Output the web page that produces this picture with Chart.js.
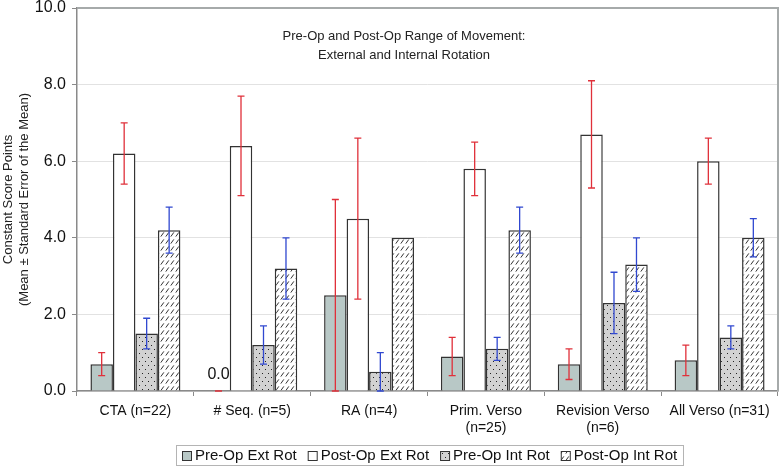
<!DOCTYPE html>
<html>
<head>
<meta charset="utf-8">
<script src="https://cdn.jsdelivr.net/npm/chart.js@4/dist/chart.umd.min.js"></script>
<style>
  html, body { margin: 0; padding: 0; background: #fff; }
  #wrap { width: 780px; height: 467px; position: relative; }
</style>
</head>
<body>
<div id="wrap"><canvas id="romChart"></canvas></div>
<script>
// --- Data ---
const categories = ['CTA (n=22)', '# Seq. (n=5)', 'RA (n=4)', ['Prim. Verso', '(n=25)'], ['Revision Verso', '(n=6)'], 'All Verso (n=31)'];
const seriesNames = ['Pre-Op Ext Rot', 'Post-Op Ext Rot', 'Pre-Op Int Rot', 'Post-Op Int Rot'];

const preExt = [0.7, 0.0, 2.5, 0.9, 0.7, 0.8];
const preExtErr = [0.3, 0.0, 2.5, 0.5, 0.4, 0.4];
const postExt = [6.2, 6.4, 4.5, 5.8, 6.7, 6.0];
const postExtErr = [0.8, 1.3, 2.1, 0.7, 1.4, 0.6];
const preInt = [1.5, 1.2, 0.5, 1.1, 2.3, 1.4];
const preIntErr = [0.4, 0.5, 0.5, 0.3, 0.8, 0.3];
const postInt = [4.2, 3.2, 4.0, 4.2, 3.3, 4.0];
const postIntErr = [0.6, 0.8, null, 0.6, 0.7, 0.5];

const yTicks = [0, 2, 4, 6, 8, 10];

// --- Helpers ---
const FONT = '"Liberation Sans", Arial, sans-serif';
const RED = '#e0303a';
const BLUE = '#3048d0';
const EDGE = '#333333';

const makePattern = (w, h, drawFn) => {
    const c = document.createElement('canvas');
    c.width = w;
    c.height = h;
    const g = c.getContext('2d');
    drawFn(g);
    return g.createPattern(c, 'repeat');
};

const dotPattern = makePattern(6, 8, g => {
    g.fillStyle = '#d2d2d2';
    g.fillRect(0, 0, 6, 8);
    g.fillStyle = '#222';
    g.fillRect(1, 1, 1, 1);
    g.fillRect(4, 5, 1, 1);
});

const hatchPattern = makePattern(5, 7, g => {
    g.fillStyle = '#ffffff';
    g.fillRect(0, 0, 5, 7);
    g.strokeStyle = '#333';
    g.lineWidth = 1;
    g.beginPath();
    g.moveTo(0.8, 5.6);
    g.lineTo(3.8, 1.4);
    g.stroke();
});

const fills = ['#b8c8c6', '#ffffff', dotPattern, hatchPattern];
const errs = [preExtErr, postExtErr, preIntErr, postIntErr];
const errColors = [RED, RED, BLUE, BLUE];

// --- Plugins ---
const frameAndExtras = {
    id: 'frameAndExtras',
    afterDatasetsDraw(chart) {
        const { ctx, chartArea, scales } = chart;
        const y = scales.y;

        // error bars
        chart.data.datasets.forEach((ds, di) => {
            const meta = chart.getDatasetMeta(di);
            meta.data.forEach((bar, i) => {
                const e = errs[di][i];
                if (e === null || e === undefined) return;
                const v = ds.data[i];
                const yt = y.getPixelForValue(v + e);
                const yb = y.getPixelForValue(Math.max(0, v - e));
                ctx.save();
                ctx.strokeStyle = errColors[di];
                ctx.lineWidth = 1.3;
                ctx.beginPath();
                ctx.moveTo(bar.x, yt);
                ctx.lineTo(bar.x, yb);
                ctx.moveTo(bar.x - 3.5, yt);
                ctx.lineTo(bar.x + 3.5, yt);
                ctx.moveTo(bar.x - 3.5, yb);
                ctx.lineTo(bar.x + 3.5, yb);
                ctx.stroke();
                ctx.restore();
            });
        });

        // "0.0" label for the zero bar
        const meta0 = chart.getDatasetMeta(0);
        preExt.forEach((v, i) => {
            if (v !== 0) return;
            const bar = meta0.data[i];
            ctx.save();
            ctx.fillStyle = '#111';
            ctx.font = '16px ' + FONT;
            ctx.textAlign = 'center';
            ctx.textBaseline = 'middle';
            ctx.fillText('0.0', bar.x, y.getPixelForValue(0) - 16);
            ctx.restore();
        });

        // top / right frame
        ctx.save();
        ctx.strokeStyle = '#a6aaaa';
        ctx.lineWidth = 2;
        ctx.beginPath();
        ctx.moveTo(chartArea.left, chartArea.top);
        ctx.lineTo(chartArea.right, chartArea.top);
        ctx.lineTo(chartArea.right, chartArea.bottom);
        ctx.stroke();
        ctx.restore();

        // title inside plot
        ctx.save();
        ctx.fillStyle = '#222';
        ctx.font = '13px ' + FONT;
        ctx.textAlign = 'center';
        ctx.textBaseline = 'middle';
        ctx.fillText('Pre-Op and Post-Op Range of Movement:', 404, 36);
        ctx.fillText('External and Internal Rotation', 404, 55);
        ctx.restore();
    },
    afterDraw(chart) {
        // custom legend box
        const { ctx } = chart;
        ctx.save();
        ctx.font = '15px ' + FONT;
        ctx.strokeStyle = '#b4b4b4';
        ctx.lineWidth = 1;
        ctx.strokeRect(176.5, 445.5, 507, 20);
        let x = 182;
        seriesNames.forEach((name, i) => {
            ctx.fillStyle = fills[i];
            ctx.fillRect(x, 451, 10, 10);
            ctx.strokeStyle = EDGE;
            ctx.lineWidth = 1;
            ctx.strokeRect(x + 0.5, 451.5, 9, 9);
            ctx.fillStyle = '#111';
            ctx.textBaseline = 'middle';
            ctx.textAlign = 'left';
            ctx.fillText(name, x + 13, 456);
            x += 13 + ctx.measureText(name).width + 11;
        });
        ctx.restore();
    }
};

// --- Chart ---
const seriesValues = [preExt, postExt, preInt, postInt];
const ctx = document.getElementById('romChart').getContext('2d');
new Chart(ctx, {
    type: 'bar',
    data: {
        labels: categories,
        datasets: seriesValues.map((vals, i) => ({
            label: seriesNames[i],
            data: vals,
            backgroundColor: fills[i],
            borderColor: EDGE,
            borderWidth: 1.5,
            borderSkipped: 'bottom',
            categoryPercentage: 0.77,
            barPercentage: 1.0
        }))
    },
    options: {
        responsive: true,
        maintainAspectRatio: false,
        animation: false,
        layout: { padding: { left: 1, right: 2, top: 0, bottom: 30 } },
        plugins: {
            legend: { display: false },
            tooltip: { enabled: false }
        },
        scales: {
            x: {
                grid: { drawOnChartArea: false, tickLength: 5, color: '#8a8a8a' },
                border: { color: '#8a8a8a', width: 1.5 },
                ticks: {
                    color: '#111',
                    font: { family: FONT, size: 14, lineHeight: 1.25 },
                    padding: 6,
                    maxRotation: 0,
                    autoSkip: false
                },
                afterFit: s => { s.height = 46; }
            },
            y: {
                min: 0,
                max: 10,
                afterBuildTicks: s => { s.ticks = yTicks.map(v => ({ value: v })); },
                grid: { color: '#e2e2e2', tickLength: 5, tickColor: '#8a8a8a' },
                border: { color: '#8a8a8a', width: 1.5 },
                ticks: {
                    color: '#111',
                    font: { family: FONT, size: 16 },
                    padding: 6,
                    callback: v => v.toFixed(1)
                },
                title: {
                    display: true,
                    text: ['Constant Score Points', '(Mean \u00b1 Standard Error of the Mean)'],
                    color: '#222',
                    font: { family: FONT, size: 13, lineHeight: 1.2 },
                    padding: { top: 0, bottom: 0 }
                },
                afterFit: s => { s.width = 76; s.paddingTop = 8; }
            }
        }
    },
    plugins: [frameAndExtras]
});
</script>
</body>
</html>
